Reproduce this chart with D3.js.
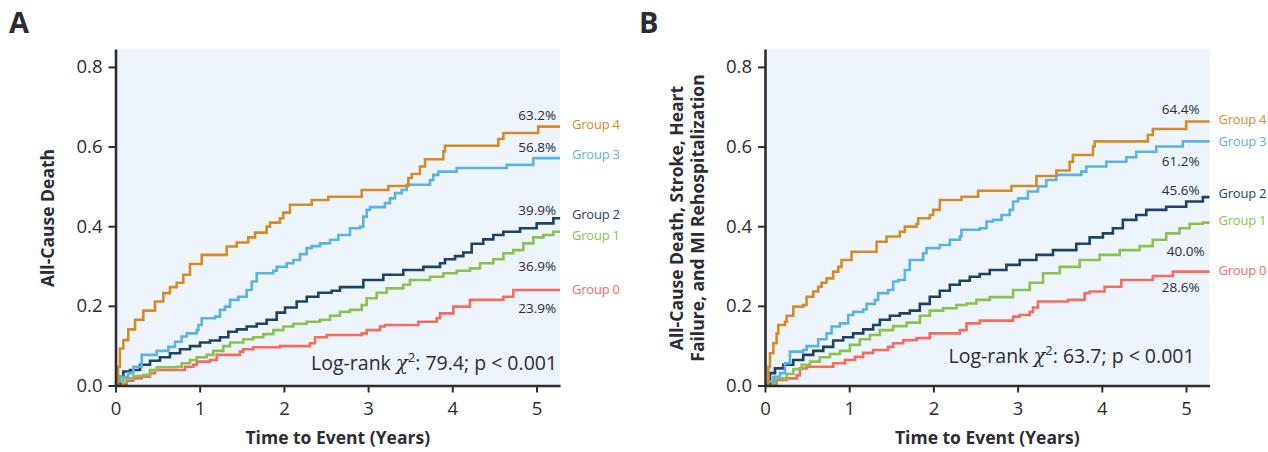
<!DOCTYPE html>
<html>
<head>
<meta charset="utf-8">
<script src="https://cdn.jsdelivr.net/npm/d3@7"></script>
<style>
  body { margin: 0; background: #fff; }
  svg { display: block; font-family: "Open Sans", "Noto Sans", sans-serif; }
</style>
</head>
<body>
<svg id="chart" width="1268" height="452"></svg>
<script>
;'use strict';

// categories
var groups = ['Group 0', 'Group 1', 'Group 2', 'Group 3', 'Group 4']
var xTicks = [0, 1, 2, 3, 4, 5]
var yTicks = [0, 0.2, 0.4, 0.6, 0.8]
var endTime = 5.28

// panel A: all-cause death, cumulative incidence [years, value]
var deathG0 = [[0,0],[0.014,0.003],[0.133,0.012],[0.212,0.018],[0.311,0.022],[0.41,0.031],[0.469,0.039],[0.825,0.047],[0.924,0.052],[0.964,0.06],[1.122,0.064],[1.202,0.077],[1.479,0.085],[1.518,0.091],[1.637,0.096],[1.954,0.099],[2.31,0.106],[2.369,0.121],[2.508,0.127],[2.924,0.131],[2.983,0.139],[3.141,0.148],[3.2,0.152],[3.596,0.16],[3.814,0.169],[3.854,0.181],[4.012,0.198],[4.21,0.215],[4.606,0.223],[4.724,0.24]]
var deathG1 = [[0,0],[0.014,0.005],[0.093,0.018],[0.212,0.024],[0.33,0.026],[0.41,0.039],[0.489,0.046],[0.727,0.047],[0.786,0.056],[0.885,0.064],[0.964,0.071],[1.083,0.077],[1.162,0.087],[1.28,0.099],[1.36,0.108],[1.518,0.116],[1.637,0.121],[1.755,0.129],[1.874,0.139],[1.993,0.148],[2.112,0.155],[2.271,0.16],[2.429,0.165],[2.548,0.175],[2.666,0.185],[2.785,0.19],[2.924,0.202],[2.983,0.219],[3.102,0.233],[3.221,0.244],[3.418,0.253],[3.497,0.265],[3.735,0.273],[3.893,0.282],[4.052,0.288],[4.21,0.294],[4.329,0.307],[4.487,0.317],[4.606,0.332],[4.724,0.34],[4.843,0.357],[4.962,0.372],[5.081,0.378],[5.2,0.386]]
var deathG2 = [[0,0],[0.014,0.005],[0.053,0.022],[0.093,0.035],[0.172,0.039],[0.291,0.052],[0.41,0.062],[0.528,0.071],[0.647,0.081],[0.766,0.091],[0.885,0.099],[1.004,0.108],[1.122,0.113],[1.241,0.121],[1.34,0.135],[1.44,0.141],[1.558,0.148],[1.677,0.155],[1.795,0.165],[1.914,0.183],[2.013,0.196],[2.152,0.211],[2.271,0.223],[2.409,0.233],[2.567,0.238],[2.666,0.247],[2.943,0.265],[3.18,0.278],[3.418,0.29],[3.656,0.298],[3.854,0.307],[3.913,0.317],[4.032,0.325],[4.131,0.334],[4.23,0.356],[4.368,0.367],[4.487,0.378],[4.606,0.386],[4.804,0.395],[5.002,0.407],[5.2,0.42]]
var deathG3 = [[0,0],[0.014,0.01],[0.053,0.022],[0.152,0.031],[0.212,0.047],[0.311,0.077],[0.489,0.087],[0.628,0.097],[0.707,0.11],[0.786,0.123],[0.846,0.131],[0.964,0.139],[0.984,0.152],[1.024,0.169],[1.182,0.173],[1.241,0.19],[1.3,0.198],[1.36,0.215],[1.459,0.223],[1.558,0.24],[1.618,0.261],[1.677,0.282],[1.874,0.288],[1.914,0.298],[2.033,0.307],[2.112,0.315],[2.191,0.33],[2.271,0.345],[2.33,0.35],[2.429,0.357],[2.548,0.366],[2.646,0.378],[2.785,0.395],[2.904,0.399],[2.943,0.424],[2.983,0.441],[3.023,0.448],[3.2,0.458],[3.26,0.47],[3.319,0.483],[3.399,0.491],[3.458,0.504],[3.735,0.516],[3.774,0.529],[3.834,0.537],[4.052,0.546],[4.646,0.554],[4.962,0.571]]
var deathG4 = [[0,0],[0.006,0.005],[0.03,0.047],[0.053,0.093],[0.093,0.114],[0.152,0.141],[0.232,0.165],[0.33,0.188],[0.469,0.211],[0.568,0.232],[0.647,0.247],[0.727,0.258],[0.805,0.278],[0.885,0.305],[1.024,0.328],[1.32,0.349],[1.44,0.359],[1.577,0.372],[1.657,0.384],[1.795,0.399],[1.835,0.409],[1.954,0.42],[1.993,0.434],[2.072,0.454],[2.33,0.466],[2.527,0.474],[2.924,0.491],[3.24,0.501],[3.478,0.521],[3.518,0.531],[3.616,0.55],[3.676,0.568],[3.893,0.588],[3.913,0.602],[4.546,0.619],[4.606,0.634],[5.02,0.65]]
var deathPct = ['23.9%', '36.9%', '39.9%', '56.8%', '63.2%']

// panel B: death, stroke, HF and MI rehospitalization
var mace0 = [[0,0],[0.02,0.003],[0.138,0.014],[0.257,0.018],[0.376,0.026],[0.415,0.043],[0.494,0.047],[0.81,0.056],[0.949,0.064],[1.068,0.072],[1.166,0.082],[1.285,0.089],[1.463,0.097],[1.522,0.106],[1.641,0.114],[1.8,0.119],[1.957,0.131],[2.313,0.139],[2.393,0.156],[2.55,0.163],[2.946,0.173],[3.025,0.177],[3.144,0.185],[3.183,0.196],[3.242,0.211],[3.598,0.215],[3.796,0.232],[3.855,0.236],[4.033,0.248],[4.231,0.265],[4.606,0.275],[4.844,0.286]]
var mace1 = [[0,0],[0.02,0.005],[0.119,0.018],[0.257,0.029],[0.336,0.041],[0.435,0.052],[0.534,0.06],[0.652,0.071],[0.771,0.079],[0.89,0.087],[1.008,0.102],[1.127,0.116],[1.246,0.127],[1.364,0.139],[1.522,0.149],[1.681,0.158],[1.839,0.175],[1.957,0.188],[2.115,0.194],[2.274,0.202],[2.393,0.206],[2.511,0.215],[2.669,0.222],[2.946,0.24],[3.144,0.258],[3.302,0.282],[3.5,0.298],[3.737,0.315],[3.974,0.328],[4.212,0.34],[4.449,0.35],[4.606,0.366],[4.765,0.382],[4.923,0.395],[5.042,0.406],[5.2,0.409]]
var mace2 = [[0,0],[0.02,0.005],[0.059,0.031],[0.119,0.043],[0.217,0.052],[0.336,0.064],[0.454,0.077],[0.573,0.087],[0.692,0.097],[0.81,0.113],[0.929,0.121],[1.047,0.131],[1.166,0.141],[1.285,0.152],[1.364,0.165],[1.483,0.175],[1.601,0.181],[1.72,0.188],[1.839,0.205],[1.957,0.223],[2.076,0.238],[2.195,0.253],[2.313,0.263],[2.432,0.273],[2.55,0.28],[2.669,0.29],[2.867,0.303],[3.025,0.315],[3.223,0.328],[3.42,0.34],[3.697,0.356],[3.855,0.372],[4.013,0.382],[4.132,0.395],[4.25,0.416],[4.409,0.428],[4.528,0.441],[4.765,0.449],[5.002,0.462],[5.2,0.473]]
var mace3 = [[0,0],[0.02,0.01],[0.099,0.022],[0.178,0.031],[0.237,0.056],[0.297,0.085],[0.454,0.089],[0.494,0.099],[0.632,0.116],[0.731,0.131],[0.791,0.148],[0.89,0.156],[0.988,0.177],[1.047,0.185],[1.166,0.191],[1.206,0.205],[1.305,0.215],[1.344,0.232],[1.463,0.24],[1.522,0.261],[1.581,0.265],[1.661,0.29],[1.72,0.315],[1.878,0.332],[1.918,0.345],[2.076,0.353],[2.195,0.366],[2.313,0.374],[2.333,0.391],[2.55,0.395],[2.63,0.412],[2.708,0.416],[2.808,0.428],[2.906,0.441],[2.946,0.462],[3.005,0.47],[3.123,0.487],[3.242,0.5],[3.341,0.516],[3.46,0.529],[3.757,0.537],[3.816,0.55],[4.053,0.562],[4.291,0.573],[4.409,0.587],[4.646,0.6],[4.962,0.613]]
var mace4 = [[0,0],[0.02,0.005],[0.04,0.047],[0.059,0.081],[0.099,0.106],[0.138,0.131],[0.158,0.152],[0.237,0.16],[0.257,0.175],[0.336,0.198],[0.454,0.202],[0.494,0.223],[0.573,0.236],[0.632,0.248],[0.672,0.258],[0.731,0.269],[0.81,0.286],[0.87,0.298],[0.909,0.315],[1.028,0.336],[1.325,0.361],[1.444,0.374],[1.601,0.386],[1.661,0.399],[1.8,0.406],[1.819,0.42],[1.957,0.428],[1.997,0.441],[2.076,0.466],[2.333,0.474],[2.531,0.489],[2.926,0.501],[3.223,0.526],[3.46,0.54],[3.618,0.562],[3.657,0.579],[3.895,0.6],[3.915,0.613],[4.547,0.629],[4.606,0.644],[5.002,0.663]]
var macePct = ['28.6%', '40.0%', '45.6%', '61.2%', '64.4%']

var colors = ['#f86b5c', '#8bc24f', '#1f4364', '#5bb3e4', '#d68b27']
var ink = '#2b2d33'

var svg = d3.select('#chart')

function panel(opt) {
  var x = d3.scaleLinear().domain([0, endTime]).range([opt.left, opt.left + 444.6])
  var y = d3.scaleLinear().domain([0, 0.845]).range([385.5, 49])
  var g = svg.append('g')

  g.append('rect')
    .attr('x', x(0)).attr('y', y(0.845))
    .attr('width', x(endTime) - x(0)).attr('height', y(0) - y(0.845))
    .attr('fill', '#edf4fb')

  var line = d3.line()
    .x(function(d) { return x(d[0]) })
    .y(function(d) { return y(d[1]) })
    .curve(d3.curveStepAfter)

  opt.series.forEach(function(s, i) {
    var pts = s.concat([[endTime, s[s.length - 1][1]]])
    g.append('path')
      .attr('d', line(pts))
      .attr('fill', 'none')
      .attr('stroke', colors[i])
      .attr('stroke-width', 2.6)
  })

  // axes
  var yAxis = d3.axisLeft(y).tickValues(yTicks).tickFormat(d3.format('.1f'))
    .tickSizeInner(7).tickSizeOuter(0).tickPadding(6)
  var xAxis = d3.axisBottom(x).tickValues(xTicks).tickFormat(d3.format('d'))
    .tickSizeInner(7).tickSizeOuter(0).tickPadding(9)
  var ya = g.append('g').attr('transform', 'translate(' + x(0) + ',0)').call(yAxis)
  var xa = g.append('g').attr('transform', 'translate(0,' + y(0) + ')').call(xAxis)
  ;[ya, xa].forEach(function(a) {
    a.select('.domain').attr('stroke', ink).attr('stroke-width', 2.6)
    a.selectAll('.tick line').attr('stroke', ink).attr('stroke-width', 2)
    a.selectAll('.tick text').attr('fill', ink)
      .style('font-size', '18.5px').style('font-family', '"Open Sans", sans-serif')
  })

  // end labels
  opt.series.forEach(function(s, i) {
    var last = s[s.length - 1][1]
    g.append('text')
      .attr('x', x(endTime) + opt.nameGap).attr('y', y(last) + opt.nameShift[i])
      .attr('dy', '0.35em')
      .attr('fill', colors[i])
      .style('font-size', '13px').style('letter-spacing', '-0.25px')
      .text(groups[i])
    g.append('text')
      .attr('x', x(endTime) - opt.pctInset[i]).attr('y', y(last) + opt.pctShift[i])
      .attr('dy', '0.35em')
      .attr('text-anchor', 'end')
      .attr('fill', ink)
      .style('font-size', '13.5px')
      .text(opt.pct[i])
  })

  // log-rank
  var lr = g.append('text')
    .attr('x', x(endTime) - opt.lrInset).attr('y', opt.lrY)
    .attr('text-anchor', 'end')
    .attr('fill', ink)
    .style('font-size', '19.5px')
  lr.append('tspan').text('Log-rank ')
  lr.append('tspan').style('font-family', '"DejaVu Serif", serif').style('font-style', 'italic').text('\u03c7')
  lr.append('tspan').attr('dy', -8).style('font-size', '13px').text('2')
  lr.append('tspan').attr('dy', 8).text(': ' + opt.chi + '; p < 0.001')

  // titles
  g.append('text')
    .attr('x', (x(0) + x(endTime)) / 2).attr('y', 444)
    .attr('text-anchor', 'middle')
    .attr('fill', ink)
    .style('font-size', '17.5px').style('font-weight', 700)
    .text('Time to Event (Years)')

  var yt = g.append('text')
    .attr('transform', 'translate(' + opt.titleX + ',218) rotate(-90)')
    .attr('text-anchor', 'middle')
    .attr('fill', ink)
    .style('font-size', '17.5px').style('font-weight', 700)
  opt.yTitle.forEach(function(t, i) {
    yt.append('tspan').attr('x', 0).attr('dy', i ? '1.2em' : 0).text(t)
  })

  g.append('text')
    .attr('x', opt.letterX).attr('y', 33)
    .attr('fill', ink)
    .style('font-size', '29px').style('font-weight', 700)
    .text(opt.letter)
}

panel({
    left: 115.5
  , series: [deathG0, deathG1, deathG2, deathG3, deathG4]
  , pct: deathPct
  , pctShift: [18, 34, -8, -11, -11]
  , pctInset: [4, 4, 4, 4, 4]
  , nameShift: [0, 3.5, -3.5, -3.5, -2.5]
  , nameGap: 12
  , chi: '79.4'
  , lrInset: 3
  , lrY: 370
  , yTitle: ['All-Cause Death']
  , titleX: 54
  , letter: 'A'
  , letterX: 9
})

panel({
    left: 765
  , series: [mace0, mace1, mace2, mace3, mace4]
  , pct: macePct
  , pctShift: [16, 29, -7, 20, -12]
  , pctInset: [10, 5, 10, 10, 10]
  , nameShift: [-1, -2.5, -4, 0, -2.5]
  , nameGap: 9
  , chi: '63.7'
  , lrInset: 15
  , lrY: 363
  , yTitle: ['All-Cause Death, Stroke, Heart', 'Failure, and MI Rehospitalization']
  , titleX: 683
  , letter: 'B'
  , letterX: 639
})
</script>
</body>
</html>
